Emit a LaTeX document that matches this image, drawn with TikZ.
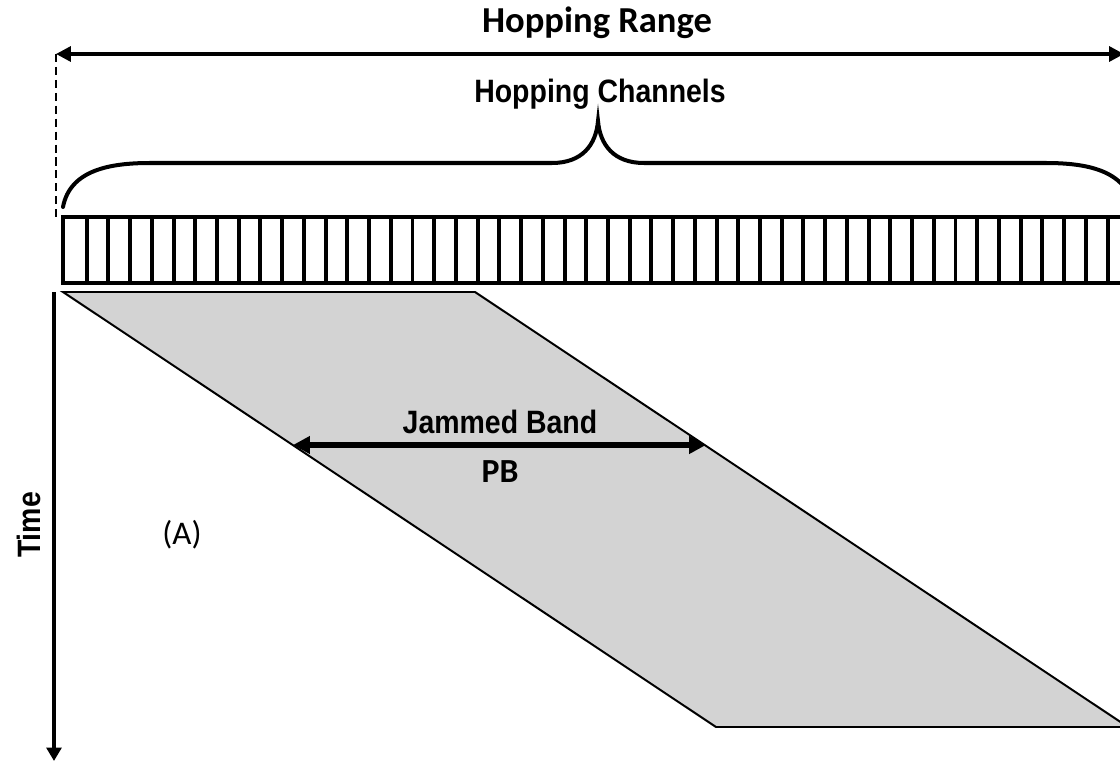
\documentclass[tikz,border=0pt]{standalone}
\usepackage{fontspec}
\usepackage{tikz}
\usetikzlibrary{arrows.meta,positioning}
\setmainfont{Carlito}
\newfontfamily\hopfont[FakeStretch=0.88]{Liberation Sans}
\definecolor{hpgray}{RGB}{211,211,211}
\tikzset{
  hplabel/.style={font=\bfseries\fontsize{26}{28}\selectfont, inner sep=0pt},
  hpcond/.style={font=\hopfont\bfseries\fontsize{23}{25}\selectfont, inner sep=0pt},
  hpbar/.style={draw=black, line width=3.5pt, fill=white},
  hpdiv/.style={draw=black, line width=2.8pt},
  hpjam/.style={draw=black, line width=1.4pt, fill=hpgray, line join=miter},
  hpbrace/.style={draw=black, line width=2.85pt, line cap=round},
  hparr/.style={{Triangle[length=10.5pt,width=10.5pt]}-{Triangle[length=10.5pt,width=10.5pt]}, line width=2.4pt},
  hpjamarr/.style={{Triangle[length=12pt,width=12pt]}-{Triangle[length=12pt,width=12pt]}, line width=4pt},
  hptime/.style={-{Triangle[length=9.5pt,width=10.5pt]}, line width=3.4pt}
}
\begin{document}
\begin{tikzpicture}[x=0.025cm, y=-0.025cm]
  \useasboundingbox (0,0) rectangle (1120,762);
  % hopping range
  \coordinate (rangeL) at (56,54);
  \coordinate (rangeR) at (1124,54);
  \coordinate (dashB) at (56,222);
  \node[hplabel, anchor=base] (range) at (597,33) {Hopping Range};
  \draw[hparr] (rangeL) -- (rangeR);
  \draw[line width=1.8pt, dash pattern=on 5.7pt off 3.5pt] (rangeL) -- (dashB);
  % channels and brace
  \node[hpcond, anchor=base] (chan) at (600,103) {Hopping Channels};
  \draw[hpbrace] (63,207) .. controls (70,170) and (110,163) .. (150,163) -- (552,163)
    .. controls (582,163) and (596,145) .. (598,121)
    .. controls (600,145) and (614,163) .. (644,163) -- (1046,163)
    .. controls (1086,163) and (1126,170) .. (1133,207);
  \draw[hpbar] (63,217) rectangle (1135,283);
  \foreach \k in {0,...,47}
    \draw[hpdiv] (86.7+\k*21.72,217) -- ++(0,66);
  % jammed band
  \draw[hpjam] (63,292) -- (475,292) -- (1128,727) -- (716,727) -- cycle;
  \coordinate (jamL) at (293,445);
  \coordinate (jamR) at (706,445);
  \draw[hpjamarr] (jamL) -- (jamR);
  \node[hpcond, anchor=base] (jam) at (500,433) {Jammed Band};
  \node[font=\bfseries\fontsize{24}{26}\selectfont, inner sep=0pt, anchor=base] (pb) at (500,482) {PB};
  % time axis
  \coordinate (timeT) at (54,292);
  \coordinate (timeB) at (54,761);
  \draw[hptime] (timeT) -- (timeB);
  \node[hpcond, rotate=90, anchor=base] (time) at (40,525) {Time};
  \node[font=\fontsize{23.5}{26}\selectfont, inner sep=0pt] (case) at (182,535) {(A)};
\end{tikzpicture}
\end{document}
